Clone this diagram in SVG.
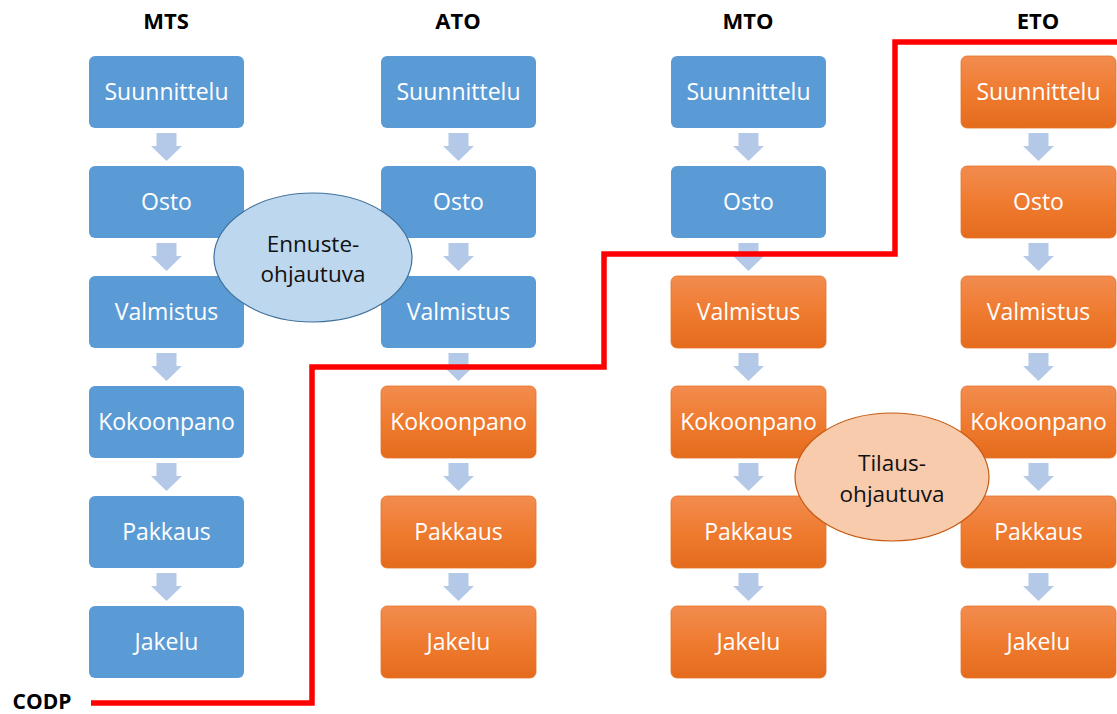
<svg xmlns="http://www.w3.org/2000/svg" xmlns:xlink="http://www.w3.org/1999/xlink" width="1117" height="714" viewBox="0 0 1117 714">
  <style>
    .head { font-family: "Open Sans", "Liberation Sans", sans-serif; font-weight: bold; font-size: 22px; fill: #000; text-anchor: middle; }
    .lbl { font-family: "Open Sans", "Liberation Sans", sans-serif; font-size: 23px; fill: #fff; text-anchor: middle; }
    .oval-lbl { font-family: "Open Sans", "Liberation Sans", sans-serif; font-size: 22.5px; fill: #111; text-anchor: middle; }
    .blue { fill: #5b9bd5; }
    .orange { fill: url(#orangeFill); stroke: #e67426; stroke-width: 0.8; }
    .step { fill: #b4c9e8; }
    .codp { fill: none; stroke: #ff0000; stroke-width: 5.5; stroke-linejoin: miter; }
  </style>
  <defs>
    <linearGradient id="orangeFill" x1="0" y1="0" x2="0" y2="1">
      <stop offset="0" stop-color="#f28c4f"/>
      <stop offset="0.5" stop-color="#ef7b30"/>
      <stop offset="1" stop-color="#e56b1c"/>
    </linearGradient>
    <!-- down arrow between two stacked boxes, origin at column centre / box bottom -->
    <path id="down" d="M-10 5 H10 V18 H15.5 L0 33 L-15.5 18 H-10 Z"/>
  </defs>

  <rect width="1117" height="714" fill="#fff"/>

  <!-- column headings -->
  <g id="headings">
    <text class="head" x="166" y="29">MTS</text>
    <text class="head" x="458" y="29">ATO</text>
    <text class="head" x="748" y="29">MTO</text>
    <text class="head" x="1038" y="29">ETO</text>
  </g>

  <!-- step arrows -->
  <g id="step-arrows" class="step">
    <use xlink:href="#down" x="166.5" y="128"/>
    <use xlink:href="#down" x="166.5" y="238"/>
    <use xlink:href="#down" x="166.5" y="348"/>
    <use xlink:href="#down" x="166.5" y="458"/>
    <use xlink:href="#down" x="166.5" y="568"/>
    <use xlink:href="#down" x="458.5" y="128"/>
    <use xlink:href="#down" x="458.5" y="238"/>
    <use xlink:href="#down" x="458.5" y="348"/>
    <use xlink:href="#down" x="458.5" y="458"/>
    <use xlink:href="#down" x="458.5" y="568"/>
    <use xlink:href="#down" x="748.5" y="128"/>
    <use xlink:href="#down" x="748.5" y="238"/>
    <use xlink:href="#down" x="748.5" y="348"/>
    <use xlink:href="#down" x="748.5" y="458"/>
    <use xlink:href="#down" x="748.5" y="568"/>
    <use xlink:href="#down" x="1038.5" y="128"/>
    <use xlink:href="#down" x="1038.5" y="238"/>
    <use xlink:href="#down" x="1038.5" y="348"/>
    <use xlink:href="#down" x="1038.5" y="458"/>
    <use xlink:href="#down" x="1038.5" y="568"/>
  </g>

  <!-- MTS column -->
  <g id="mts-suunnittelu"><rect class="blue" x="89" y="56" width="155" height="72" rx="6"/><text class="lbl" x="166.5" y="100">Suunnittelu</text></g>
  <g id="mts-osto"><rect class="blue" x="89" y="166" width="155" height="72" rx="6"/><text class="lbl" x="166.5" y="210">Osto</text></g>
  <g id="mts-valmistus"><rect class="blue" x="89" y="276" width="155" height="72" rx="6"/><text class="lbl" x="166.5" y="320">Valmistus</text></g>
  <g id="mts-kokoonpano"><rect class="blue" x="89" y="386" width="155" height="72" rx="6"/><text class="lbl" x="166.5" y="430">Kokoonpano</text></g>
  <g id="mts-pakkaus"><rect class="blue" x="89" y="496" width="155" height="72" rx="6"/><text class="lbl" x="166.5" y="540">Pakkaus</text></g>
  <g id="mts-jakelu"><rect class="blue" x="89" y="606" width="155" height="72" rx="6"/><text class="lbl" x="166.5" y="650">Jakelu</text></g>

  <!-- ATO column -->
  <g id="ato-suunnittelu"><rect class="blue" x="381" y="56" width="155" height="72" rx="6"/><text class="lbl" x="458.5" y="100">Suunnittelu</text></g>
  <g id="ato-osto"><rect class="blue" x="381" y="166" width="155" height="72" rx="6"/><text class="lbl" x="458.5" y="210">Osto</text></g>
  <g id="ato-valmistus"><rect class="blue" x="381" y="276" width="155" height="72" rx="6"/><text class="lbl" x="458.5" y="320">Valmistus</text></g>
  <g id="ato-kokoonpano"><rect class="orange" x="381" y="386" width="155" height="72" rx="6"/><text class="lbl" x="458.5" y="430">Kokoonpano</text></g>
  <g id="ato-pakkaus"><rect class="orange" x="381" y="496" width="155" height="72" rx="6"/><text class="lbl" x="458.5" y="540">Pakkaus</text></g>
  <g id="ato-jakelu"><rect class="orange" x="381" y="606" width="155" height="72" rx="6"/><text class="lbl" x="458.5" y="650">Jakelu</text></g>

  <!-- MTO column -->
  <g id="mto-suunnittelu"><rect class="blue" x="671" y="56" width="155" height="72" rx="6"/><text class="lbl" x="748.5" y="100">Suunnittelu</text></g>
  <g id="mto-osto"><rect class="blue" x="671" y="166" width="155" height="72" rx="6"/><text class="lbl" x="748.5" y="210">Osto</text></g>
  <g id="mto-valmistus"><rect class="orange" x="671" y="276" width="155" height="72" rx="6"/><text class="lbl" x="748.5" y="320">Valmistus</text></g>
  <g id="mto-kokoonpano"><rect class="orange" x="671" y="386" width="155" height="72" rx="6"/><text class="lbl" x="748.5" y="430">Kokoonpano</text></g>
  <g id="mto-pakkaus"><rect class="orange" x="671" y="496" width="155" height="72" rx="6"/><text class="lbl" x="748.5" y="540">Pakkaus</text></g>
  <g id="mto-jakelu"><rect class="orange" x="671" y="606" width="155" height="72" rx="6"/><text class="lbl" x="748.5" y="650">Jakelu</text></g>

  <!-- ETO column -->
  <g id="eto-suunnittelu"><rect class="orange" x="961" y="56" width="155" height="72" rx="6"/><text class="lbl" x="1038.5" y="100">Suunnittelu</text></g>
  <g id="eto-osto"><rect class="orange" x="961" y="166" width="155" height="72" rx="6"/><text class="lbl" x="1038.5" y="210">Osto</text></g>
  <g id="eto-valmistus"><rect class="orange" x="961" y="276" width="155" height="72" rx="6"/><text class="lbl" x="1038.5" y="320">Valmistus</text></g>
  <g id="eto-kokoonpano"><rect class="orange" x="961" y="386" width="155" height="72" rx="6"/><text class="lbl" x="1038.5" y="430">Kokoonpano</text></g>
  <g id="eto-pakkaus"><rect class="orange" x="961" y="496" width="155" height="72" rx="6"/><text class="lbl" x="1038.5" y="540">Pakkaus</text></g>
  <g id="eto-jakelu"><rect class="orange" x="961" y="606" width="155" height="72" rx="6"/><text class="lbl" x="1038.5" y="650">Jakelu</text></g>

  <!-- zone ovals -->
  <g id="forecast-driven">
    <ellipse cx="313" cy="257.5" rx="99" ry="64.5" fill="#bdd7ee" stroke="#41719c" stroke-width="1.2"/>
    <text class="oval-lbl" x="313" y="252">Ennuste-</text>
    <text class="oval-lbl" x="313" y="282">ohjautuva</text>
  </g>
  <g id="order-driven">
    <ellipse cx="892" cy="477" rx="97" ry="64" fill="#f8cbad" stroke="#c55a11" stroke-width="1.2"/>
    <text class="oval-lbl" x="892" y="471">Tilaus-</text>
    <text class="oval-lbl" x="892" y="502">ohjautuva</text>
  </g>

  <!-- customer order decoupling point line -->
  <g id="codp">
    <path class="codp" d="M91 703 H312 V367 H604 V254 H895 V42 H1117"/>
    <text class="head" x="42" y="709" style="font-size:21px">CODP</text>
  </g>
</svg>
